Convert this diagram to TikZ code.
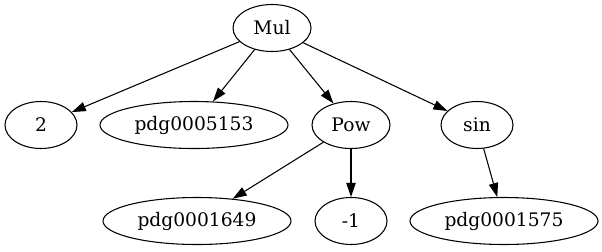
\documentclass[tikz,border=0pt]{standalone}
\usepackage{fontspec}
\setmainfont{DejaVu Serif}
\usetikzlibrary{shapes.geometric}
\usetikzlibrary{arrows.meta}

\begin{document}
\begin{tikzpicture}[x=0.75pt,y=-0.75pt,
  every node/.style={font=\fontsize{14}{16}\selectfont},
  term/.style={draw, ellipse, line width=0.8pt, inner sep=0pt, minimum height=35.25pt},
  short/.style={term, minimum width=54pt},
  mid/.style={term, minimum width=58.5pt},
  long/.style={term, minimum width=141pt},
  edge/.style={-{Triangle[length=10.5pt,width=7pt]}, line width=0.8pt}]

\useasboundingbox (0,0) rectangle (602,251);

%---------------------------------------
% Rank heights
%---------------------------------------
\def\rankA{28}
\def\rankB{125}
\def\rankC{221}

%---------------------------------------
% Nodes
%---------------------------------------
\node[mid] (mul) at (272,\rankA) {Mul};

\node[short] (two) at (41,\rankB) {2};
\node[long] (pdgA) at (194,\rankB) {pdg0005153};
\node[mid] (pow) at (351,\rankB) {Pow};
\node[short] (sin) at (477,\rankB) {sin};

\node[long] (pdgB) at (197,\rankC) {pdg0001649};
\node[short] (neg) at (351,\rankC) {-1};
\node[long] (pdgC) at (504,\rankC) {pdg0001575};

%---------------------------------------
% Edges
%---------------------------------------
\foreach \a/\b in {mul/two, mul/pdgA, mul/pow, mul/sin, pow/pdgB, pow/neg, sin/pdgC}
  \draw[edge] (\a) -- (\b);

\end{tikzpicture}
\end{document}
